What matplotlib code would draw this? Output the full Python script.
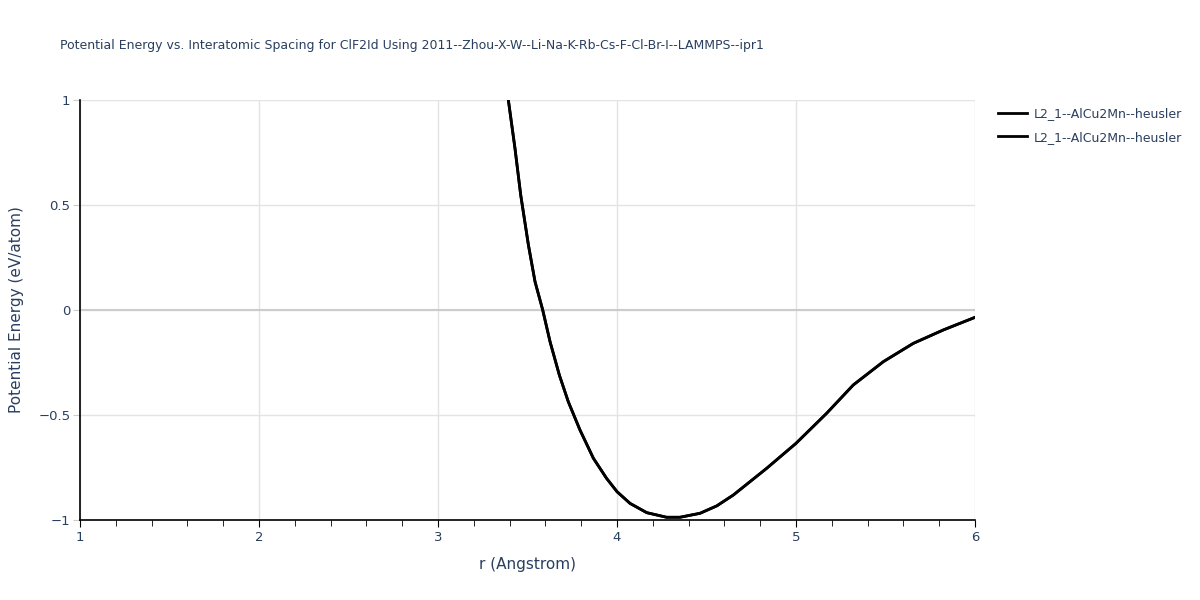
import matplotlib
matplotlib.use("Agg")
import matplotlib.pyplot as plt
from matplotlib.ticker import MultipleLocator

# values
r_vals = [3.393, 3.430, 3.462, 3.505, 3.542, 3.585, 3.626, 3.678, 3.728, 3.793,
          3.868, 3.942, 4.0, 4.073, 4.166, 4.277, 4.352, 4.464, 4.557, 4.65,
          4.836, 5.0, 5.171, 5.32, 5.488, 5.655, 5.823, 6.0]
energy = [1.0, 0.770, 0.548, 0.310, 0.135, 0.0, -0.151, -0.310, -0.437, -0.571,
          -0.706, -0.802, -0.865, -0.921, -0.965, -0.987, -0.987, -0.968, -0.933, -0.881,
          -0.754, -0.635, -0.492, -0.357, -0.246, -0.159, -0.095, -0.035]
series_names = ["L2_1--AlCu2Mn--heusler", "L2_1--AlCu2Mn--heusler"]

title = ("Potential Energy vs. Interatomic Spacing for ClF2Id Using "
         "2011--Zhou-X-W--Li-Na-K-Rb-Cs-F-Cl-Br-I--LAMMPS--ipr1")
text_col = "#2a3f5f"

plt.rcParams["font.family"] = ["DejaVu Sans"]

fig = plt.figure(figsize=(12, 6), dpi=100)
ax = fig.add_axes([80 / 1200, 80 / 600, 895 / 1200, 420 / 600])

for name in series_names:
    ax.plot(r_vals, energy, color="black", lw=2, label=name)

ax.set_xlim(1, 6)
ax.set_ylim(-1, 1)
ax.xaxis.set_major_locator(MultipleLocator(1))
ax.xaxis.set_minor_locator(MultipleLocator(0.2))
ax.set_yticks([-1, -0.5, 0, 0.5, 1])
ax.set_yticklabels(["\u22121", "\u22120.5", "0", "0.5", "1"])

ax.grid(True, which="major", color="#e3e3e3", lw=1)
ax.axhline(0, color="#cccccc", lw=1.5, zorder=1)
ax.set_axisbelow(True)

for side in ["top", "right"]:
    ax.spines[side].set_visible(False)
for side in ["left", "bottom"]:
    ax.spines[side].set_color("black")
    ax.spines[side].set_linewidth(1.2)

ax.tick_params(axis="x", which="major", direction="out", length=5, color="black",
               labelcolor=text_col, labelsize=9.5, pad=3)
ax.tick_params(axis="x", which="minor", direction="out", length=4, color="black")
ax.tick_params(axis="y", which="major", direction="out", length=5, color="#cccccc",
               labelcolor=text_col, labelsize=9.5, pad=2)

ax.set_xlabel("r (Angstrom)", color=text_col, fontsize=11, labelpad=9)
ax.set_ylabel("Potential Energy (eV/atom)", color=text_col, fontsize=11, labelpad=10)

fig.text(60 / 1200, 1 - 45 / 600, title, color=text_col, fontsize=9, va="center")

leg = ax.legend(loc="upper left", bbox_to_anchor=(1.02, 0.995), frameon=False,
                fontsize=9, handlelength=2.3, labelspacing=0.85, borderaxespad=0,
                handletextpad=0.6)
for t in leg.get_texts():
    t.set_color(text_col)

fig.savefig("out.png", dpi=100)
